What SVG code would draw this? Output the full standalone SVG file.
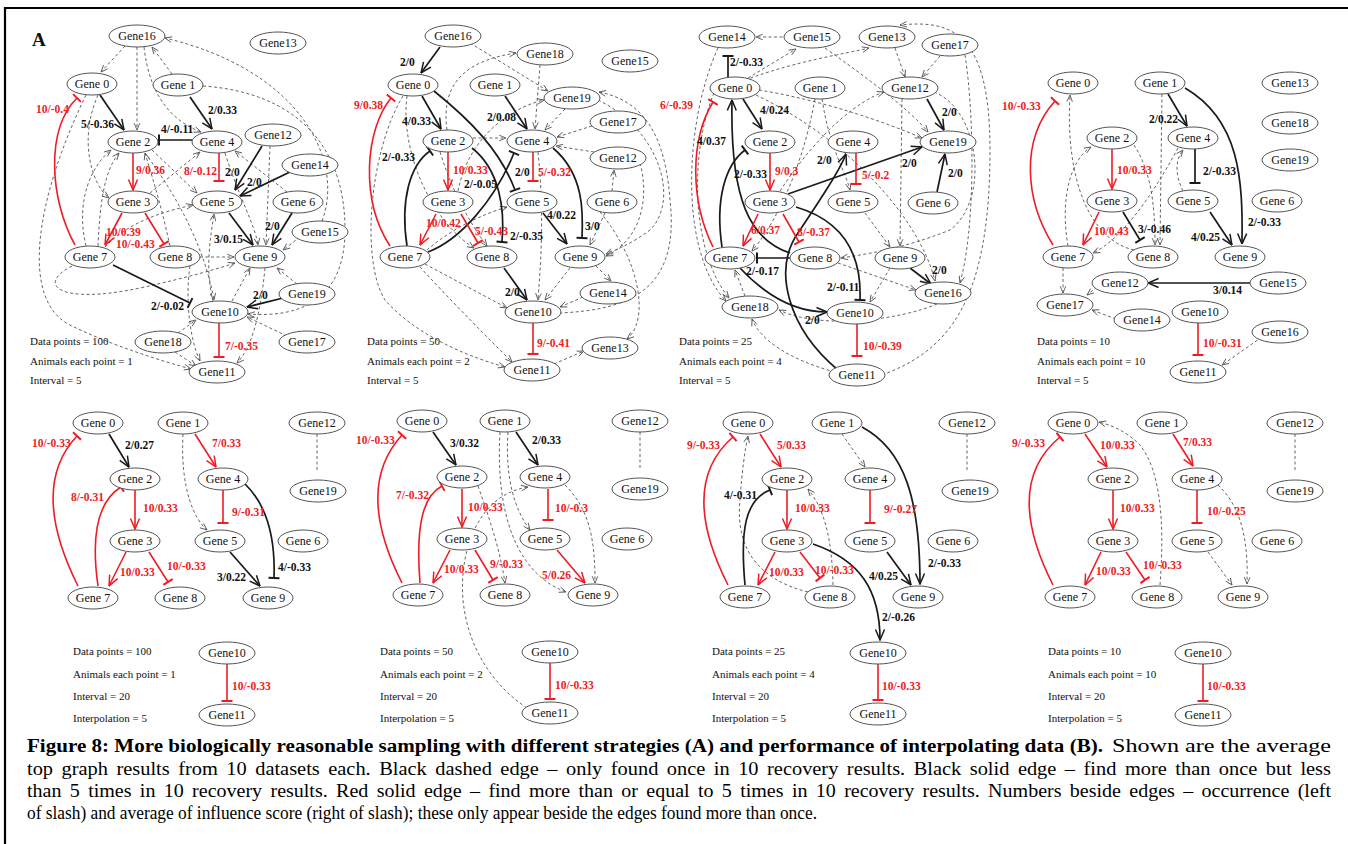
<svg xmlns="http://www.w3.org/2000/svg" width="1348" height="844" viewBox="0 0 1348 844">
<defs>
<style>
.frame{stroke:#000;stroke-width:2.2;fill:none}
.n ellipse{fill:#fff;stroke:#555;stroke-width:1}
.n text{font-family:"Liberation Serif","Times New Roman",serif;font-size:12px;text-anchor:middle;fill:#111}
.e path{fill:none}
.bA,.bT{stroke:#1a1a1a;stroke-width:1.7}
.bA{marker-end:url(#mbA)}
.bT{marker-end:url(#mbT)}
.rA,.rT{stroke:#ee1c25;stroke-width:1.6}
.rA{marker-end:url(#mrA)}
.rT{marker-end:url(#mrT)}
.dA,.dN{stroke:#555;stroke-width:0.9;stroke-dasharray:3 2.5}
.dA{marker-end:url(#mdA)}
.lb,.lr{font-family:"Liberation Serif","Times New Roman",serif;font-size:11.5px;font-weight:bold}
.lb{fill:#111}
.lr{fill:#ee1c25}
.info{font-family:"Liberation Serif","Times New Roman",serif;font-size:11px;fill:#111}
.cap{font-family:"Liberation Serif","Times New Roman",serif;font-size:18px;fill:#000}
.capb{font-weight:bold}
.big{font-family:"Liberation Serif","Times New Roman",serif;font-size:19px;font-weight:bold;fill:#111}
</style>
<marker id="mbA" viewBox="0 0 12 12" refX="11.5" refY="6" markerWidth="12" markerHeight="12" markerUnits="userSpaceOnUse" orient="auto"><path d="M1,1.5 L11.5,6 L1,10.5" fill="none" stroke="#1a1a1a" stroke-width="1.5"/></marker>
<marker id="mrA" viewBox="0 0 12 12" refX="11.5" refY="6" markerWidth="12" markerHeight="12" markerUnits="userSpaceOnUse" orient="auto"><path d="M1,1.5 L11.5,6 L1,10.5" fill="none" stroke="#ee1c25" stroke-width="1.5"/></marker>
<marker id="mdA" viewBox="0 0 10 10" refX="9.5" refY="5" markerWidth="8" markerHeight="8" markerUnits="userSpaceOnUse" orient="auto"><path d="M1,1.5 L9.5,5 L1,8.5" fill="none" stroke="#555" stroke-width="1.1"/></marker>
<marker id="mbT" viewBox="-2 -6 4 12" refX="0" refY="0" markerWidth="4" markerHeight="12" markerUnits="userSpaceOnUse" orient="auto"><path d="M0,-5.5 V5.5" stroke="#1a1a1a" stroke-width="2"/></marker>
<marker id="mrT" viewBox="-2 -6 4 12" refX="0" refY="0" markerWidth="4" markerHeight="12" markerUnits="userSpaceOnUse" orient="auto"><path d="M0,-5.5 V5.5" stroke="#ee1c25" stroke-width="2"/></marker>
</defs>
<rect width="1348" height="844" fill="#fff"/>
<path class="frame" d="M5,844 V8 H1348"/>
<text class="big" x="32" y="46">A</text>

<!-- ================= Connectors ================= -->
<g id="connectors" class="e">
<!-- Panel 1 -->
<g id="p1-edges">
<path class="dA" d="M125,46 L101,72"/>
<path class="dA" d="M137,47 L137,130"/>
<path class="dA" d="M144,47 C150,100 175,122 201,132"/>
<path class="dA" d="M172,74 L152,47"/>
<path class="dA" d="M203,86 C290,92 345,140 345,230 C345,300 300,318 248,314"/>
<path class="dA" d="M322,221 C345,160 300,70 165,38"/>
<path class="dA" d="M98,95 C78,140 92,185 109,198"/>
<path class="dA" d="M86,95 C35,200 20,300 70,325 C110,345 165,362 191,369"/>
<path class="dA" d="M72,266 C35,285 60,305 140,288 C190,277 220,268 235,263"/>
<path class="dA" d="M86,246 C75,200 92,165 111,150"/>
<path class="dA" d="M98,246 C100,200 105,170 119,153"/>
<path class="dA" d="M150,193 L200,152"/>
<path class="dA" d="M152,150 L197,193"/>
<path class="dA" d="M170,246 C160,200 150,170 145,153"/>
<path class="dA" d="M200,257 L234,257"/>
<path class="dA" d="M105,247 C130,220 170,210 193,205"/>
<path class="dA" d="M225,153 C240,200 255,225 258,245"/>
<path class="dA" d="M287,192 L235,151"/>
<path class="dA" d="M270,146 L266,245"/>
<path class="dA" d="M300,237 L283,250"/>
<path class="dA" d="M297,284 L277,268"/>
<path class="dA" d="M232,301 L250,268"/>
<path class="dA" d="M213,301 C205,270 210,240 214,214"/>
<path class="dA" d="M190,266 C185,300 190,340 200,361"/>
<path class="dA" d="M178,333 L196,320"/>
<path class="dA" d="M175,352 L196,366"/>
<path class="dA" d="M287,336 L247,317"/>
<path class="dA" d="M265,268 C260,320 250,350 237,363"/>
<path class="dA" d="M145,153 C180,200 205,250 214,300"/>
<path class="rT" d="M75,245 C50,200 45,130 77,98"/>
<path class="bA" d="M100,95 L124,130"/>
<path class="bA" d="M190,97 L212,129"/>
<path class="bT" d="M192,140 L159,140"/>
<path class="rA" d="M133,153 L133,190"/>
<path class="rT" d="M219,153 L219,181"/>
<path class="bA" d="M262,146 L235,190"/>
<path class="bA" d="M290,172 L240,196"/>
<path class="rA" d="M122,213 L105,245"/>
<path class="rT" d="M145,213 L164,244"/>
<path class="bA" d="M229,213 L253,245"/>
<path class="bA" d="M292,213 L272,245"/>
<path class="bT" d="M113,265 L190,303"/>
<path class="bA" d="M283,298 L247,307"/>
<path class="rT" d="M219,323 L219,357"/>
<text class="lr" x="36" y="113">10/-0.4</text>
<text class="lb" x="81" y="128">5/-0.36</text>
<text class="lb" x="208" y="114">2/0.33</text>
<text class="lb" x="161" y="133">4/-0.11</text>
<text class="lr" x="136" y="174">9/0.36</text>
<text class="lr" x="184" y="175">8/-0.12</text>
<text class="lb" x="225" y="176">2/0</text>
<text class="lb" x="247" y="186">2/0</text>
<text class="lr" x="106" y="236">10/0.39</text>
<text class="lr" x="116" y="248">10/-0.43</text>
<text class="lb" x="214" y="243">3/0.15</text>
<text class="lb" x="265" y="230">2/0</text>
<text class="lb" x="151" y="310">2/-0.02</text>
<text class="lb" x="253" y="299">2/0</text>
<text class="lr" x="225" y="350">7/-0.35</text>
</g>
<!-- Panel 2 -->
<g id="p2-edges">
<path class="dA" d="M470,43 L548,91"/>
<path class="dA" d="M447,130 C440,80 470,60 516,53"/>
<path class="dA" d="M540,65 L535,129"/>
<path class="dA" d="M458,191 C470,130 520,105 544,100"/>
<path class="dA" d="M565,109 L545,130"/>
<path class="dA" d="M592,126 L557,137"/>
<path class="dA" d="M594,152 L556,146"/>
<path class="dA" d="M612,191 L614,170"/>
<path class="dA" d="M605,213 L590,245"/>
<path class="dA" d="M640,163 C650,200 640,240 606,256"/>
<path class="dA" d="M598,100 C660,130 680,200 650,230 C630,245 615,250 606,254"/>
<path class="dA" d="M596,266 L611,281"/>
<path class="dA" d="M583,297 L560,307"/>
<path class="dA" d="M570,268 L545,300"/>
<path class="dA" d="M538,152 C545,220 540,270 538,300"/>
<path class="dA" d="M425,264 L507,308"/>
<path class="dA" d="M600,212 C640,260 650,320 627,339"/>
<path class="dA" d="M554,364 L584,351"/>
<path class="dA" d="M559,313 C630,310 680,290 670,200 C665,130 640,100 599,92"/>
<path class="dA" d="M403,96 C370,150 360,260 385,300 C420,340 480,360 505,367"/>
<path class="dA" d="M420,267 C450,300 490,340 512,362"/>
<path class="dA" d="M440,152 C455,200 475,230 487,246"/>
<path class="dA" d="M407,96 C400,150 430,220 474,248"/>
<path class="dA" d="M427,250 C450,230 480,215 507,207"/>
<path class="dA" d="M473,138 L506,138"/>
<path class="bA" d="M440,47 L421,73"/>
<path class="rT" d="M390,246 C360,200 365,130 391,98"/>
<path class="bA" d="M422,96 L441,129"/>
<path class="bA" d="M505,96 L527,129"/>
<path class="bT" d="M434,91 C470,120 500,150 515,190"/>
<path class="bT" d="M407,246 C400,200 410,165 430,151"/>
<path class="rA" d="M448,152 L448,190"/>
<path class="bT" d="M472,148 C500,170 505,210 502,242"/>
<path class="bT" d="M428,252 C460,240 495,200 514,153"/>
<path class="rT" d="M533,152 L533,181"/>
<path class="rA" d="M436,214 L420,245"/>
<path class="rT" d="M461,214 L478,243"/>
<path class="bT" d="M553,148 C585,175 583,215 582,238"/>
<path class="bA" d="M543,213 L567,244"/>
<path class="bA" d="M504,268 L527,300"/>
<path class="rT" d="M533,323 L533,354"/>
<text class="lb" x="400" y="66">2/0</text>
<text class="lr" x="354" y="109">9/0.38</text>
<text class="lb" x="402" y="125">4/0.33</text>
<text class="lb" x="487" y="121">2/0.08</text>
<text class="lb" x="515" y="176">2/0</text>
<text class="lb" x="382" y="161">2/-0.33</text>
<text class="lr" x="453" y="174">10/0.33</text>
<text class="lb" x="464" y="188">2/-0.05</text>
<text class="lb" x="510" y="240">2/-0.35</text>
<text class="lr" x="538" y="176">5/-0.32</text>
<text class="lr" x="426" y="227">10/0.42</text>
<text class="lr" x="475" y="235">5/-0.43</text>
<text class="lb" x="585" y="230">3/0</text>
<text class="lb" x="547" y="219">4/0.22</text>
<text class="lb" x="505" y="296">2/0</text>
<text class="lr" x="537" y="347">9/-0.41</text>
</g>
<!-- Panel 3 -->
<g id="p3-edges">
<path class="dA" d="M788,37 L756,37"/>
<path class="dA" d="M748,78 L796,49"/>
<path class="dA" d="M745,80 C800,60 840,55 869,48"/>
<path class="dA" d="M895,48 L905,77"/>
<path class="dA" d="M940,56 L922,77"/>
<path class="dA" d="M825,48 C870,80 910,110 928,132"/>
<path class="dA" d="M759,90 C820,100 880,120 922,138"/>
<path class="dA" d="M756,95 C850,140 920,220 935,281"/>
<path class="dA" d="M822,99 C830,150 845,170 850,190"/>
<path class="dA" d="M815,99 C800,180 770,230 752,251"/>
<path class="dA" d="M902,99 L900,246"/>
<path class="dA" d="M780,191 C820,130 860,100 884,92"/>
<path class="dA" d="M865,213 L890,247"/>
<path class="dA" d="M838,263 L916,290"/>
<path class="dA" d="M890,268 L870,302"/>
<path class="dA" d="M745,296 L735,270"/>
<path class="dA" d="M714,93 C690,150 690,250 729,298"/>
<path class="dA" d="M718,48 C685,120 678,250 726,301"/>
<path class="dA" d="M937,304 C900,320 820,330 779,310"/>
<path class="dA" d="M882,375 C950,350 990,300 990,150 C990,30 950,20 900,25"/>
<path class="dA" d="M965,55 C975,120 975,230 960,283"/>
<path class="dA" d="M934,92 C980,110 990,200 950,230 C900,250 860,255 841,258"/>
<path class="dA" d="M835,372 C790,360 760,340 752,319"/>
<path class="bT" d="M728,77 L728,56"/>
<path class="rT" d="M713,247 C690,200 690,140 713,102"/>
<path class="bA" d="M743,99 L762,129"/>
<path class="bA" d="M790,253 C750,240 730,200 732,100"/>
<path class="bT" d="M722,247 C715,200 725,165 745,150"/>
<path class="rA" d="M770,153 L770,190"/>
<path class="bA" d="M788,194 L922,147"/>
<path class="bA" d="M838,370 C790,330 770,270 800,230 C820,200 840,170 846,154"/>
<path class="rT" d="M856,153 L856,184"/>
<path class="bA" d="M927,99 L944,130"/>
<path class="bA" d="M937,192 L945,154"/>
<path class="rA" d="M758,214 L743,246"/>
<path class="rT" d="M783,214 L799,242"/>
<path class="bT" d="M790,258 L757,258"/>
<path class="bT" d="M796,207 C840,220 862,250 860,300"/>
<path class="bA" d="M740,268 C770,300 800,312 827,312"/>
<path class="bA" d="M910,268 L931,284"/>
<path class="rT" d="M857,324 L857,356"/>
<text class="lb" x="730" y="66">2/-0.33</text>
<text class="lr" x="660" y="109">6/-0.39</text>
<text class="lb" x="760" y="114">4/0.24</text>
<text class="lb" x="697" y="145">4/0.37</text>
<text class="lb" x="734" y="178">2/-0.33</text>
<text class="lr" x="775" y="175">9/0.3</text>
<text class="lb" x="902" y="167">2/0</text>
<text class="lb" x="817" y="164">2/0</text>
<text class="lr" x="862" y="179">5/-0.2</text>
<text class="lb" x="942" y="116">2/0</text>
<text class="lb" x="948" y="177">2/0</text>
<text class="lr" x="751" y="234">6/0.37</text>
<text class="lr" x="797" y="236">8/-0.37</text>
<text class="lb" x="746" y="275">2/-0.17</text>
<text class="lb" x="827" y="291">2/-0.11</text>
<text class="lb" x="805" y="324">2/0</text>
<text class="lb" x="932" y="274">2/0</text>
<text class="lr" x="863" y="350">10/-0.39</text>
</g>
<!-- Panel 4 -->
<g id="p4-edges">
<path class="dA" d="M1134,250 C1090,240 1065,180 1070,95"/>
<path class="dA" d="M1068,246 C1060,200 1070,160 1091,147"/>
<path class="dA" d="M1134,145 C1150,170 1155,200 1155,245"/>
<path class="dA" d="M1162,94 L1160,245"/>
<path class="dA" d="M1178,148 C1150,200 1120,240 1093,253"/>
<path class="dA" d="M1183,191 C1175,175 1175,160 1183,150"/>
<path class="dA" d="M1063,268 L1063,293"/>
<path class="dA" d="M1097,287 L1087,295"/>
<path class="dA" d="M1116,319 L1092,310"/>
<path class="dA" d="M1262,337 L1222,365"/>
<path class="rT" d="M1053,245 C1025,200 1020,140 1055,101"/>
<path class="bA" d="M1168,94 L1187,126"/>
<path class="bA" d="M1185,88 C1240,120 1243,180 1242,244"/>
<path class="rA" d="M1112,149 L1112,189"/>
<path class="bT" d="M1195,149 L1195,183"/>
<path class="rA" d="M1099,212 L1083,245"/>
<path class="bT" d="M1123,212 L1140,240"/>
<path class="bA" d="M1210,212 L1232,245"/>
<path class="bA" d="M1250,283 L1148,283"/>
<path class="rT" d="M1198,323 L1198,355"/>
<text class="lr" x="1002" y="110">10/-0.33</text>
<text class="lb" x="1149" y="123">2/0.22</text>
<text class="lb" x="1248" y="226">2/-0.33</text>
<text class="lr" x="1117" y="174">10/0.33</text>
<text class="lb" x="1203" y="175">2/-0.33</text>
<text class="lr" x="1094" y="235">10/0.43</text>
<text class="lb" x="1138" y="233">3/-0.46</text>
<text class="lb" x="1191" y="241">4/0.25</text>
<text class="lb" x="1213" y="294">3/0.14</text>
<text class="lr" x="1203" y="347">10/-0.31</text>
</g>
<!-- Panel 5 -->
<g id="p5-edges">
<path class="dA" d="M183,434 C180,490 195,520 207,530"/>
<path class="dN" d="M317,434 L317,471"/>
<path class="rT" d="M78,586 C45,520 45,470 77,436"/>
<path class="bA" d="M109,434 L129,467"/>
<path class="rT" d="M98,586 C90,530 100,500 121,487"/>
<path class="rA" d="M135,490 L135,529"/>
<path class="rA" d="M126,552 L109,586"/>
<path class="rT" d="M149,552 L168,582"/>
<path class="rA" d="M195,434 L216,467"/>
<path class="rT" d="M223,490 L223,523"/>
<path class="bT" d="M245,484 C272,510 275,550 274,578"/>
<path class="bA" d="M230,552 L260,586"/>
<path class="rT" d="M227,664 L227,701"/>
<text class="lr" x="32" y="447">10/-0.33</text>
<text class="lb" x="125" y="449">2/0.27</text>
<text class="lr" x="71" y="501">8/-0.31</text>
<text class="lr" x="143" y="512">10/0.33</text>
<text class="lr" x="120" y="576">10/0.33</text>
<text class="lr" x="167" y="570">10/-0.33</text>
<text class="lr" x="212" y="447">7/0.33</text>
<text class="lr" x="232" y="516">9/-0.31</text>
<text class="lb" x="278" y="571">4/-0.33</text>
<text class="lb" x="217" y="581">3/0.22</text>
<text class="lr" x="232" y="690">10/-0.33</text>
</g>
<!-- Panel 6 -->
<g id="p6-edges">
<path class="dA" d="M508,432 C505,480 515,510 530,530"/>
<path class="dA" d="M500,432 C495,520 520,575 566,592"/>
<path class="dA" d="M478,486 C490,520 500,550 505,583"/>
<path class="dA" d="M565,485 C590,510 595,540 595,583"/>
<path class="dA" d="M527,708 C470,670 450,600 470,540 C485,500 510,490 528,487"/>
<path class="dN" d="M640,432 L640,468"/>
<path class="rT" d="M402,583 C370,520 370,470 402,435"/>
<path class="bA" d="M433,432 L456,465"/>
<path class="rT" d="M420,583 C415,520 425,495 442,486"/>
<path class="rA" d="M462,489 L462,527"/>
<path class="rA" d="M450,550 L433,583"/>
<path class="rT" d="M475,550 L493,580"/>
<path class="bA" d="M516,432 L538,465"/>
<path class="rT" d="M548,489 L548,520"/>
<path class="rA" d="M557,550 L585,583"/>
<path class="rT" d="M550,663 L550,699"/>
<text class="lr" x="356" y="444">10/-0.33</text>
<text class="lb" x="450" y="447">3/0.32</text>
<text class="lr" x="396" y="499">7/-0.32</text>
<text class="lr" x="468" y="511">10/0.33</text>
<text class="lr" x="444" y="573">10/0.33</text>
<text class="lr" x="490" y="568">9/-0.33</text>
<text class="lb" x="532" y="444">2/0.33</text>
<text class="lr" x="555" y="512">10/-0.3</text>
<text class="lr" x="542" y="579">5/0.26</text>
<text class="lr" x="555" y="689">10/-0.33</text>
</g>
<!-- Panel 7 -->
<g id="p7-edges">
<path class="dA" d="M808,592 C760,580 735,550 740,500 C742,470 745,450 748,436"/>
<path class="dA" d="M833,585 C832,540 825,510 808,489"/>
<path class="dA" d="M842,434 L865,467"/>
<path class="dN" d="M967,434 L967,470"/>
<path class="rT" d="M728,585 C695,520 695,470 733,437"/>
<path class="rA" d="M760,434 L781,467"/>
<path class="bT" d="M745,585 C740,530 745,500 770,490"/>
<path class="rA" d="M787,490 L787,529"/>
<path class="rA" d="M775,552 L758,585"/>
<path class="rT" d="M800,552 L820,578"/>
<path class="bA" d="M862,427 C905,450 920,500 920,584"/>
<path class="rT" d="M870,490 L870,523"/>
<path class="bA" d="M887,552 L911,585"/>
<path class="bA" d="M813,544 C860,560 880,590 880,640"/>
<path class="rT" d="M878,664 L878,700"/>
<text class="lr" x="687" y="449">9/-0.33</text>
<text class="lr" x="777" y="449">5/0.33</text>
<text class="lb" x="724" y="499">4/-0.31</text>
<text class="lr" x="795" y="512">10/0.33</text>
<text class="lr" x="769" y="576">10/0.33</text>
<text class="lr" x="815" y="574">10/-0.33</text>
<text class="lb" x="928" y="567">2/-0.33</text>
<text class="lr" x="884" y="513">9/-0.27</text>
<text class="lb" x="869" y="580">4/0.25</text>
<text class="lb" x="882" y="621">2/-0.26</text>
<text class="lr" x="882" y="690">10/-0.33</text>
</g>
<!-- Panel 8 -->
<g id="p8-edges">
<path class="dA" d="M1160,585 C1165,520 1160,470 1140,445 C1125,430 1110,425 1099,422"/>
<path class="dA" d="M1218,485 C1245,510 1248,550 1247,584"/>
<path class="dA" d="M1208,552 L1232,585"/>
<path class="dN" d="M1295,434 L1295,470"/>
<path class="rT" d="M1053,585 C1020,520 1020,470 1060,437"/>
<path class="rA" d="M1085,434 L1107,467"/>
<path class="rA" d="M1113,490 L1113,529"/>
<path class="rA" d="M1101,552 L1085,585"/>
<path class="rT" d="M1126,552 L1145,580"/>
<path class="rA" d="M1173,434 L1193,466"/>
<path class="rT" d="M1197,490 L1197,523"/>
<path class="rT" d="M1203,664 L1203,701"/>
<text class="lr" x="1012" y="447">9/-0.33</text>
<text class="lr" x="1100" y="449">10/0.33</text>
<text class="lr" x="1120" y="512">10/0.33</text>
<text class="lr" x="1096" y="575">10/0.33</text>
<text class="lr" x="1143" y="569">10/-0.33</text>
<text class="lr" x="1183" y="446">7/0.33</text>
<text class="lr" x="1207" y="515">10/-0.25</text>
<text class="lr" x="1207" y="690">10/-0.33</text>
</g>
</g>

<!-- ================= Nodes ================= -->
<g id="nodes">
<!-- Panel 1 -->
<g id="p1-gene16" class="n"><ellipse cx="137" cy="36" rx="28" ry="11"/><text x="137" y="40">Gene16</text></g>
<g id="p1-gene13" class="n"><ellipse cx="278" cy="43" rx="28" ry="11"/><text x="278" y="47">Gene13</text></g>
<g id="p1-gene0" class="n"><ellipse cx="92" cy="84" rx="25" ry="11"/><text x="92" y="88">Gene 0</text></g>
<g id="p1-gene1" class="n"><ellipse cx="178" cy="85" rx="25" ry="11"/><text x="178" y="89">Gene 1</text></g>
<g id="p1-gene2" class="n"><ellipse cx="133" cy="142" rx="25" ry="11"/><text x="133" y="146">Gene 2</text></g>
<g id="p1-gene4" class="n"><ellipse cx="217" cy="142" rx="25" ry="11"/><text x="217" y="146">Gene 4</text></g>
<g id="p1-gene12" class="n"><ellipse cx="273" cy="135" rx="28" ry="11"/><text x="273" y="139">Gene12</text></g>
<g id="p1-gene14" class="n"><ellipse cx="310" cy="165" rx="28" ry="11"/><text x="310" y="169">Gene14</text></g>
<g id="p1-gene3" class="n"><ellipse cx="133" cy="202" rx="25" ry="11"/><text x="133" y="206">Gene 3</text></g>
<g id="p1-gene5" class="n"><ellipse cx="217" cy="202" rx="25" ry="11"/><text x="217" y="206">Gene 5</text></g>
<g id="p1-gene6" class="n"><ellipse cx="298" cy="202" rx="25" ry="11"/><text x="298" y="206">Gene 6</text></g>
<g id="p1-gene15" class="n"><ellipse cx="320" cy="232" rx="28" ry="11"/><text x="320" y="236">Gene15</text></g>
<g id="p1-gene7" class="n"><ellipse cx="90" cy="257" rx="25" ry="11"/><text x="90" y="261">Gene 7</text></g>
<g id="p1-gene8" class="n"><ellipse cx="175" cy="257" rx="25" ry="11"/><text x="175" y="261">Gene 8</text></g>
<g id="p1-gene9" class="n"><ellipse cx="260" cy="257" rx="25" ry="11"/><text x="260" y="261">Gene 9</text></g>
<g id="p1-gene19" class="n"><ellipse cx="307" cy="294" rx="28" ry="11"/><text x="307" y="298">Gene19</text></g>
<g id="p1-gene10" class="n"><ellipse cx="220" cy="312" rx="28" ry="11"/><text x="220" y="316">Gene10</text></g>
<g id="p1-gene18" class="n"><ellipse cx="163" cy="342" rx="28" ry="11"/><text x="163" y="346">Gene18</text></g>
<g id="p1-gene17" class="n"><ellipse cx="307" cy="342" rx="28" ry="11"/><text x="307" y="346">Gene17</text></g>
<g id="p1-gene11" class="n"><ellipse cx="217" cy="372" rx="28" ry="11"/><text x="217" y="376">Gene11</text></g>
<!-- Panel 2 -->
<g id="p2-gene16" class="n"><ellipse cx="453" cy="36" rx="28" ry="11"/><text x="453" y="40">Gene16</text></g>
<g id="p2-gene18" class="n"><ellipse cx="545" cy="54" rx="28" ry="11"/><text x="545" y="58">Gene18</text></g>
<g id="p2-gene15" class="n"><ellipse cx="630" cy="61" rx="28" ry="11"/><text x="630" y="65">Gene15</text></g>
<g id="p2-gene0" class="n"><ellipse cx="413" cy="85" rx="25" ry="11"/><text x="413" y="89">Gene 0</text></g>
<g id="p2-gene1" class="n"><ellipse cx="495" cy="85" rx="25" ry="11"/><text x="495" y="89">Gene 1</text></g>
<g id="p2-gene19" class="n"><ellipse cx="572" cy="98" rx="28" ry="11"/><text x="572" y="102">Gene19</text></g>
<g id="p2-gene17" class="n"><ellipse cx="618" cy="122" rx="28" ry="11"/><text x="618" y="126">Gene17</text></g>
<g id="p2-gene2" class="n"><ellipse cx="448" cy="141" rx="25" ry="11"/><text x="448" y="145">Gene 2</text></g>
<g id="p2-gene4" class="n"><ellipse cx="532" cy="141" rx="25" ry="11"/><text x="532" y="145">Gene 4</text></g>
<g id="p2-gene12" class="n"><ellipse cx="618" cy="158" rx="28" ry="11"/><text x="618" y="162">Gene12</text></g>
<g id="p2-gene3" class="n"><ellipse cx="448" cy="202" rx="25" ry="11"/><text x="448" y="206">Gene 3</text></g>
<g id="p2-gene5" class="n"><ellipse cx="532" cy="202" rx="25" ry="11"/><text x="532" y="206">Gene 5</text></g>
<g id="p2-gene6" class="n"><ellipse cx="612" cy="202" rx="25" ry="11"/><text x="612" y="206">Gene 6</text></g>
<g id="p2-gene7" class="n"><ellipse cx="405" cy="257" rx="25" ry="11"/><text x="405" y="261">Gene 7</text></g>
<g id="p2-gene8" class="n"><ellipse cx="492" cy="257" rx="25" ry="11"/><text x="492" y="261">Gene 8</text></g>
<g id="p2-gene9" class="n"><ellipse cx="580" cy="257" rx="25" ry="11"/><text x="580" y="261">Gene 9</text></g>
<g id="p2-gene14" class="n"><ellipse cx="608" cy="293" rx="28" ry="11"/><text x="608" y="297">Gene14</text></g>
<g id="p2-gene10" class="n"><ellipse cx="533" cy="312" rx="28" ry="11"/><text x="533" y="316">Gene10</text></g>
<g id="p2-gene13" class="n"><ellipse cx="610" cy="348" rx="28" ry="11"/><text x="610" y="352">Gene13</text></g>
<g id="p2-gene11" class="n"><ellipse cx="532" cy="370" rx="28" ry="11"/><text x="532" y="374">Gene11</text></g>
<!-- Panel 3 -->
<g id="p3-gene14" class="n"><ellipse cx="727" cy="37" rx="28" ry="11"/><text x="727" y="41">Gene14</text></g>
<g id="p3-gene15" class="n"><ellipse cx="812" cy="37" rx="28" ry="11"/><text x="812" y="41">Gene15</text></g>
<g id="p3-gene13" class="n"><ellipse cx="887" cy="37" rx="28" ry="11"/><text x="887" y="41">Gene13</text></g>
<g id="p3-gene17" class="n"><ellipse cx="950" cy="45" rx="28" ry="11"/><text x="950" y="49">Gene17</text></g>
<g id="p3-gene0" class="n"><ellipse cx="735" cy="88" rx="25" ry="11"/><text x="735" y="92">Gene 0</text></g>
<g id="p3-gene1" class="n"><ellipse cx="820" cy="88" rx="25" ry="11"/><text x="820" y="92">Gene 1</text></g>
<g id="p3-gene12" class="n"><ellipse cx="910" cy="88" rx="28" ry="11"/><text x="910" y="92">Gene12</text></g>
<g id="p3-gene2" class="n"><ellipse cx="770" cy="142" rx="25" ry="11"/><text x="770" y="146">Gene 2</text></g>
<g id="p3-gene4" class="n"><ellipse cx="853" cy="142" rx="25" ry="11"/><text x="853" y="146">Gene 4</text></g>
<g id="p3-gene19" class="n"><ellipse cx="948" cy="142" rx="28" ry="11"/><text x="948" y="146">Gene19</text></g>
<g id="p3-gene3" class="n"><ellipse cx="770" cy="202" rx="25" ry="11"/><text x="770" y="206">Gene 3</text></g>
<g id="p3-gene5" class="n"><ellipse cx="853" cy="202" rx="25" ry="11"/><text x="853" y="206">Gene 5</text></g>
<g id="p3-gene6" class="n"><ellipse cx="933" cy="203" rx="25" ry="11"/><text x="933" y="207">Gene 6</text></g>
<g id="p3-gene7" class="n"><ellipse cx="730" cy="258" rx="25" ry="11"/><text x="730" y="262">Gene 7</text></g>
<g id="p3-gene8" class="n"><ellipse cx="815" cy="258" rx="25" ry="11"/><text x="815" y="262">Gene 8</text></g>
<g id="p3-gene9" class="n"><ellipse cx="900" cy="258" rx="25" ry="11"/><text x="900" y="262">Gene 9</text></g>
<g id="p3-gene16" class="n"><ellipse cx="943" cy="293" rx="28" ry="11"/><text x="943" y="297">Gene16</text></g>
<g id="p3-gene18" class="n"><ellipse cx="750" cy="307" rx="28" ry="11"/><text x="750" y="311">Gene18</text></g>
<g id="p3-gene10" class="n"><ellipse cx="855" cy="313" rx="28" ry="11"/><text x="855" y="317">Gene10</text></g>
<g id="p3-gene11" class="n"><ellipse cx="857" cy="375" rx="28" ry="11"/><text x="857" y="379">Gene11</text></g>
<!-- Panel 4 -->
<g id="p4-gene0" class="n"><ellipse cx="1073" cy="83" rx="25" ry="11"/><text x="1073" y="87">Gene 0</text></g>
<g id="p4-gene1" class="n"><ellipse cx="1160" cy="83" rx="25" ry="11"/><text x="1160" y="87">Gene 1</text></g>
<g id="p4-gene13" class="n"><ellipse cx="1290" cy="83" rx="28" ry="11"/><text x="1290" y="87">Gene13</text></g>
<g id="p4-gene18" class="n"><ellipse cx="1290" cy="123" rx="28" ry="11"/><text x="1290" y="127">Gene18</text></g>
<g id="p4-gene2" class="n"><ellipse cx="1112" cy="138" rx="25" ry="11"/><text x="1112" y="142">Gene 2</text></g>
<g id="p4-gene4" class="n"><ellipse cx="1193" cy="138" rx="25" ry="11"/><text x="1193" y="142">Gene 4</text></g>
<g id="p4-gene19" class="n"><ellipse cx="1290" cy="160" rx="28" ry="11"/><text x="1290" y="164">Gene19</text></g>
<g id="p4-gene3" class="n"><ellipse cx="1112" cy="201" rx="25" ry="11"/><text x="1112" y="205">Gene 3</text></g>
<g id="p4-gene5" class="n"><ellipse cx="1193" cy="201" rx="25" ry="11"/><text x="1193" y="205">Gene 5</text></g>
<g id="p4-gene6" class="n"><ellipse cx="1277" cy="201" rx="25" ry="11"/><text x="1277" y="205">Gene 6</text></g>
<g id="p4-gene7" class="n"><ellipse cx="1068" cy="257" rx="25" ry="11"/><text x="1068" y="261">Gene 7</text></g>
<g id="p4-gene8" class="n"><ellipse cx="1153" cy="257" rx="25" ry="11"/><text x="1153" y="261">Gene 8</text></g>
<g id="p4-gene9" class="n"><ellipse cx="1240" cy="257" rx="25" ry="11"/><text x="1240" y="261">Gene 9</text></g>
<g id="p4-gene12" class="n"><ellipse cx="1120" cy="283" rx="28" ry="11"/><text x="1120" y="287">Gene12</text></g>
<g id="p4-gene15" class="n"><ellipse cx="1278" cy="283" rx="28" ry="11"/><text x="1278" y="287">Gene15</text></g>
<g id="p4-gene17" class="n"><ellipse cx="1065" cy="305" rx="28" ry="11"/><text x="1065" y="309">Gene17</text></g>
<g id="p4-gene10" class="n"><ellipse cx="1200" cy="312" rx="28" ry="11"/><text x="1200" y="316">Gene10</text></g>
<g id="p4-gene14" class="n"><ellipse cx="1142" cy="320" rx="28" ry="11"/><text x="1142" y="324">Gene14</text></g>
<g id="p4-gene16" class="n"><ellipse cx="1280" cy="332" rx="28" ry="11"/><text x="1280" y="336">Gene16</text></g>
<g id="p4-gene11" class="n"><ellipse cx="1198" cy="372" rx="28" ry="11"/><text x="1198" y="376">Gene11</text></g>
<!-- Panel 5 -->
<g id="p5-gene0" class="n"><ellipse cx="98" cy="423" rx="25" ry="11"/><text x="98" y="427">Gene 0</text></g>
<g id="p5-gene1" class="n"><ellipse cx="183" cy="423" rx="25" ry="11"/><text x="183" y="427">Gene 1</text></g>
<g id="p5-gene12" class="n"><ellipse cx="317" cy="423" rx="28" ry="11"/><text x="317" y="427">Gene12</text></g>
<g id="p5-gene2" class="n"><ellipse cx="135" cy="479" rx="25" ry="11"/><text x="135" y="483">Gene 2</text></g>
<g id="p5-gene4" class="n"><ellipse cx="223" cy="479" rx="25" ry="11"/><text x="223" y="483">Gene 4</text></g>
<g id="p5-gene19" class="n"><ellipse cx="318" cy="491" rx="28" ry="11"/><text x="318" y="495">Gene19</text></g>
<g id="p5-gene3" class="n"><ellipse cx="135" cy="541" rx="25" ry="11"/><text x="135" y="545">Gene 3</text></g>
<g id="p5-gene5" class="n"><ellipse cx="220" cy="541" rx="25" ry="11"/><text x="220" y="545">Gene 5</text></g>
<g id="p5-gene6" class="n"><ellipse cx="303" cy="541" rx="25" ry="11"/><text x="303" y="545">Gene 6</text></g>
<g id="p5-gene7" class="n"><ellipse cx="93" cy="598" rx="25" ry="11"/><text x="93" y="602">Gene 7</text></g>
<g id="p5-gene8" class="n"><ellipse cx="180" cy="598" rx="25" ry="11"/><text x="180" y="602">Gene 8</text></g>
<g id="p5-gene9" class="n"><ellipse cx="268" cy="598" rx="25" ry="11"/><text x="268" y="602">Gene 9</text></g>
<g id="p5-gene10" class="n"><ellipse cx="227" cy="653" rx="28" ry="11"/><text x="227" y="657">Gene10</text></g>
<g id="p5-gene11" class="n"><ellipse cx="227" cy="715" rx="28" ry="11"/><text x="227" y="719">Gene11</text></g>
<!-- Panel 6 -->
<g id="p6-gene0" class="n"><ellipse cx="422" cy="421" rx="25" ry="11"/><text x="422" y="425">Gene 0</text></g>
<g id="p6-gene1" class="n"><ellipse cx="505" cy="421" rx="25" ry="11"/><text x="505" y="425">Gene 1</text></g>
<g id="p6-gene12" class="n"><ellipse cx="640" cy="421" rx="28" ry="11"/><text x="640" y="425">Gene12</text></g>
<g id="p6-gene2" class="n"><ellipse cx="462" cy="477" rx="25" ry="11"/><text x="462" y="481">Gene 2</text></g>
<g id="p6-gene4" class="n"><ellipse cx="545" cy="477" rx="25" ry="11"/><text x="545" y="481">Gene 4</text></g>
<g id="p6-gene19" class="n"><ellipse cx="640" cy="489" rx="28" ry="11"/><text x="640" y="493">Gene19</text></g>
<g id="p6-gene3" class="n"><ellipse cx="462" cy="539" rx="25" ry="11"/><text x="462" y="543">Gene 3</text></g>
<g id="p6-gene5" class="n"><ellipse cx="545" cy="539" rx="25" ry="11"/><text x="545" y="543">Gene 5</text></g>
<g id="p6-gene6" class="n"><ellipse cx="627" cy="539" rx="25" ry="11"/><text x="627" y="543">Gene 6</text></g>
<g id="p6-gene7" class="n"><ellipse cx="418" cy="595" rx="25" ry="11"/><text x="418" y="599">Gene 7</text></g>
<g id="p6-gene8" class="n"><ellipse cx="505" cy="595" rx="25" ry="11"/><text x="505" y="599">Gene 8</text></g>
<g id="p6-gene9" class="n"><ellipse cx="593" cy="595" rx="25" ry="11"/><text x="593" y="599">Gene 9</text></g>
<g id="p6-gene10" class="n"><ellipse cx="550" cy="652" rx="28" ry="11"/><text x="550" y="656">Gene10</text></g>
<g id="p6-gene11" class="n"><ellipse cx="550" cy="713" rx="28" ry="11"/><text x="550" y="717">Gene11</text></g>
<!-- Panel 7 -->
<g id="p7-gene0" class="n"><ellipse cx="748" cy="423" rx="25" ry="11"/><text x="748" y="427">Gene 0</text></g>
<g id="p7-gene1" class="n"><ellipse cx="837" cy="423" rx="25" ry="11"/><text x="837" y="427">Gene 1</text></g>
<g id="p7-gene12" class="n"><ellipse cx="967" cy="423" rx="28" ry="11"/><text x="967" y="427">Gene12</text></g>
<g id="p7-gene2" class="n"><ellipse cx="787" cy="479" rx="25" ry="11"/><text x="787" y="483">Gene 2</text></g>
<g id="p7-gene4" class="n"><ellipse cx="870" cy="479" rx="25" ry="11"/><text x="870" y="483">Gene 4</text></g>
<g id="p7-gene19" class="n"><ellipse cx="970" cy="491" rx="28" ry="11"/><text x="970" y="495">Gene19</text></g>
<g id="p7-gene3" class="n"><ellipse cx="787" cy="541" rx="25" ry="11"/><text x="787" y="545">Gene 3</text></g>
<g id="p7-gene5" class="n"><ellipse cx="870" cy="541" rx="25" ry="11"/><text x="870" y="545">Gene 5</text></g>
<g id="p7-gene6" class="n"><ellipse cx="953" cy="541" rx="25" ry="11"/><text x="953" y="545">Gene 6</text></g>
<g id="p7-gene7" class="n"><ellipse cx="745" cy="597" rx="25" ry="11"/><text x="745" y="601">Gene 7</text></g>
<g id="p7-gene8" class="n"><ellipse cx="830" cy="597" rx="25" ry="11"/><text x="830" y="601">Gene 8</text></g>
<g id="p7-gene9" class="n"><ellipse cx="918" cy="597" rx="25" ry="11"/><text x="918" y="601">Gene 9</text></g>
<g id="p7-gene10" class="n"><ellipse cx="878" cy="653" rx="28" ry="11"/><text x="878" y="657">Gene10</text></g>
<g id="p7-gene11" class="n"><ellipse cx="878" cy="714" rx="28" ry="11"/><text x="878" y="718">Gene11</text></g>
<!-- Panel 8 -->
<g id="p8-gene0" class="n"><ellipse cx="1073" cy="423" rx="25" ry="11"/><text x="1073" y="427">Gene 0</text></g>
<g id="p8-gene1" class="n"><ellipse cx="1162" cy="423" rx="25" ry="11"/><text x="1162" y="427">Gene 1</text></g>
<g id="p8-gene12" class="n"><ellipse cx="1295" cy="423" rx="28" ry="11"/><text x="1295" y="427">Gene12</text></g>
<g id="p8-gene2" class="n"><ellipse cx="1113" cy="479" rx="25" ry="11"/><text x="1113" y="483">Gene 2</text></g>
<g id="p8-gene4" class="n"><ellipse cx="1197" cy="479" rx="25" ry="11"/><text x="1197" y="483">Gene 4</text></g>
<g id="p8-gene19" class="n"><ellipse cx="1295" cy="491" rx="28" ry="11"/><text x="1295" y="495">Gene19</text></g>
<g id="p8-gene3" class="n"><ellipse cx="1113" cy="541" rx="25" ry="11"/><text x="1113" y="545">Gene 3</text></g>
<g id="p8-gene5" class="n"><ellipse cx="1197" cy="541" rx="25" ry="11"/><text x="1197" y="545">Gene 5</text></g>
<g id="p8-gene6" class="n"><ellipse cx="1277" cy="541" rx="25" ry="11"/><text x="1277" y="545">Gene 6</text></g>
<g id="p8-gene7" class="n"><ellipse cx="1070" cy="597" rx="25" ry="11"/><text x="1070" y="601">Gene 7</text></g>
<g id="p8-gene8" class="n"><ellipse cx="1157" cy="597" rx="25" ry="11"/><text x="1157" y="601">Gene 8</text></g>
<g id="p8-gene9" class="n"><ellipse cx="1243" cy="597" rx="25" ry="11"/><text x="1243" y="601">Gene 9</text></g>
<g id="p8-gene10" class="n"><ellipse cx="1203" cy="653" rx="28" ry="11"/><text x="1203" y="657">Gene10</text></g>
<g id="p8-gene11" class="n"><ellipse cx="1203" cy="715" rx="28" ry="11"/><text x="1203" y="719">Gene11</text></g>
</g>

<!-- ================= Panel info text ================= -->
<g id="info" class="info">
<text x="30" y="345">Data points = 100</text>
<text x="30" y="365">Animals each point = 1</text>
<text x="30" y="384">Interval = 5</text>
<text x="367" y="345">Data points = 50</text>
<text x="367" y="365">Animals each point = 2</text>
<text x="367" y="384">Interval = 5</text>
<text x="679" y="345">Data points = 25</text>
<text x="679" y="365">Animals each point = 4</text>
<text x="679" y="384">Interval = 5</text>
<text x="1037" y="345">Data points = 10</text>
<text x="1037" y="365">Animals each point = 10</text>
<text x="1037" y="384">Interval = 5</text>
<text x="73" y="655">Data points = 100</text>
<text x="73" y="678">Animals each point = 1</text>
<text x="73" y="700">Interval = 20</text>
<text x="73" y="722">Interpolation = 5</text>
<text x="380" y="655">Data points = 50</text>
<text x="380" y="678">Animals each point = 2</text>
<text x="380" y="700">Interval = 20</text>
<text x="380" y="722">Interpolation = 5</text>
<text x="712" y="655">Data points = 25</text>
<text x="712" y="678">Animals each point = 4</text>
<text x="712" y="700">Interval = 20</text>
<text x="712" y="722">Interpolation = 5</text>
<text x="1048" y="655">Data points = 10</text>
<text x="1048" y="678">Animals each point = 10</text>
<text x="1048" y="700">Interval = 20</text>
<text x="1048" y="722">Interpolation = 5</text>
</g>

<!-- ================= Caption ================= -->
<g id="caption" class="cap">
<text class="capb" x="27" y="752" textLength="1076" lengthAdjust="spacingAndGlyphs">Figure 8: More biologically reasonable sampling with different strategies (A) and performance of interpolating data (B).</text>
<text x="1112" y="752" textLength="219" lengthAdjust="spacingAndGlyphs">Shown are the average</text>
<text x="27" y="775" textLength="1304" lengthAdjust="spacingAndGlyphs" style="word-spacing:3px">top graph results from 10 datasets each.  Black dashed edge – only found once in 10 recovery results.  Black solid edge – find more than once but less</text>
<text x="27" y="797" textLength="1304" lengthAdjust="spacingAndGlyphs" style="word-spacing:3px">than 5 times in 10 recovery results.  Red solid edge – find more than or equal to 5 times in 10 recovery results.  Numbers beside edges – occurrence (left</text>
<text x="27" y="819" textLength="790" lengthAdjust="spacingAndGlyphs">of slash) and average of influence score (right of slash); these only appear beside the edges found more than once.</text>
</g>
</svg>
